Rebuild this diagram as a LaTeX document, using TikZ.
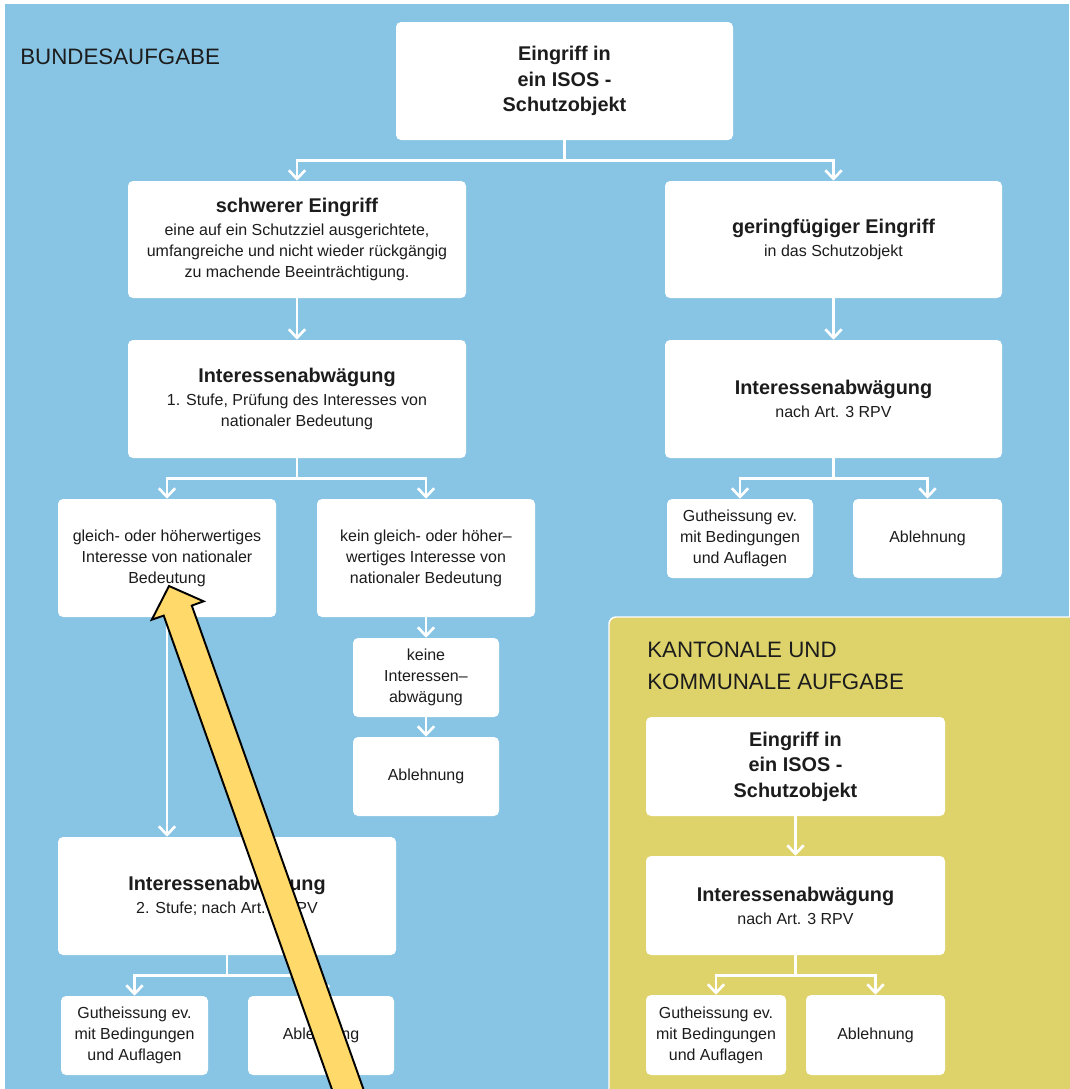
\documentclass[tikz,border=0pt]{standalone}
\usepackage{fontspec}
\setmainfont{Liberation Sans}
\usetikzlibrary{arrows.meta}
\definecolor{isosblue}{HTML}{88C4E3}
\definecolor{isosgold}{HTML}{DED36B}
\definecolor{isosink}{HTML}{1C1C1C}
\definecolor{isosmark}{HTML}{FFD96A}
\newcommand\isosttl[1]{{\fontsize{11.3}{14}\selectfont\bfseries #1}\\[1pt]}
\tikzset{
  isos text/.style={font=\fontsize{9.1}{12}\selectfont, text=isosink},
  isos size/.style 2 args={minimum width=#1*0.02cm, minimum height=#2*0.02cm},
  isos box/.style={fill=white, rounded corners=1mm, inner sep=0pt, align=center, isos text},
  isos bold/.style={font=\fontsize{11.3}{14.5}\selectfont\bfseries},
  isos head/.style={font=\fontsize{12.7}{18.2}\selectfont, text=isosink, anchor=base west,
    align=left, inner sep=0pt},
  isos panel/.style={fill=isosgold, draw=white, line width=0.8pt, rounded corners=1.4mm},
  isos arrow/.style={draw=white, line width=1.5pt, -{Straight Barb[length=1.7mm,width=3.3mm]}},
  isos mark/.style={fill=isosmark, draw=black, line width=1.1pt, line join=miter}
}
\begin{document}
\begin{tikzpicture}[x=0.02cm, y=-0.02cm, isos text]
  \useasboundingbox (0,0) rectangle (1069,1089);
  \fill[white] (0,0) rectangle (1069,1089);
  \fill[isosblue] (5,4) rectangle (1069,1089);
  \draw[isos panel] (609,617) rectangle (1090,1110);
  \node[isos head] (bund) at (20,64.5) {BUNDESAUFGABE};
  \node[isos head] (kant) at (647,689) {KANTONALE UND\\KOMMUNALE AUFGABE};
  % Bund
  \node[isos box, isos bold, isos size={337}{118}] (eing) at (564.5,81) {Eingriff in\\ein ISOS -\\Schutzobjekt};
  \node[isos box, isos size={338}{117}] (schwer) at (297,239.5)
    {\isosttl{schwerer Eingriff}eine auf ein Schutzziel ausgerichtete,\\umfangreiche und nicht wieder rückgängig\\zu machende Beeinträchtigung.};
  \node[isos box, isos size={337}{117}] (gering) at (833.5,239.5)
    {\isosttl{geringfügiger Eingriff}in das Schutzobjekt};
  \node[isos box, isos size={338}{118}] (abw1) at (297,399)
    {\isosttl{Interessenabwägung}1. Stufe, Prüfung des Interesses von\\nationaler Bedeutung};
  \node[isos box, isos size={337}{118}] (abwr) at (833.5,399)
    {\isosttl{Interessenabwägung}nach Art. 3 RPV};
  \node[isos box, isos size={218}{118}] (gleich) at (167,558)
    {gleich- oder höherwertiges\\Interesse von nationaler\\Bedeutung};
  \node[isos box, isos size={218}{118}] (kein) at (426,558)
    {kein gleich- oder höher–\\wertiges Interesse von\\nationaler Bedeutung};
  \node[isos box, isos size={146}{79}] (gutr) at (740,538.5) {Gutheissung ev.\\mit Bedingungen\\und Auflagen};
  \node[isos box, isos size={149}{79}] (ablr) at (927.5,538.5) {Ablehnung};
  \node[isos box, isos size={146}{79}] (keine) at (426,677.5) {keine\\Interessen–\\abwägung};
  \node[isos box, isos size={146}{79}] (ablm) at (426,776.5) {Ablehnung};
  \node[isos box, isos size={338}{118}] (abw2) at (227,896)
    {\isosttl{Interessenabwägung}2. Stufe; nach Art. 3 RPV};
  \node[isos box, isos size={147}{79}] (gutl) at (134.5,1035.5) {Gutheissung ev.\\mit Bedingungen\\und Auflagen};
  \node[isos box, isos size={146}{79}] (abll) at (321,1035.5) {Ablehnung};
  % Kanton und Gemeinde
  \node[isos box, isos bold, isos size={299}{99}] (keing) at (795.5,766.5) {Eingriff in\\ein ISOS -\\Schutzobjekt};
  \node[isos box, isos size={299}{99}] (kabw) at (795.5,905.5)
    {\isosttl{Interessenabwägung}nach Art. 3 RPV};
  \node[isos box, isos size={140}{80}] (kgut) at (716,1035) {Gutheissung ev.\\mit Bedingungen\\und Auflagen};
  \node[isos box, isos size={139}{80}] (kabl) at (875.5,1035) {Ablehnung};
  % connectors
  \draw[isos arrow] (eing.south) -- ++(0,20) -| (schwer.north);
  \draw[isos arrow] (eing.south) -- ++(0,20) -| (gering.north);
  \draw[isos arrow] (schwer) -- (abw1);
  \draw[isos arrow] (gering) -- (abwr);
  \draw[isos arrow] (abw1.south) -- ++(0,20) -| (gleich.north);
  \draw[isos arrow] (abw1.south) -- ++(0,20) -| (kein.north);
  \draw[isos arrow] (abwr.south) -- ++(0,20) -| (gutr.north);
  \draw[isos arrow] (abwr.south) -- ++(0,20) -| (ablr.north);
  \draw[isos arrow] (kein) -- (keine);
  \draw[isos arrow] (keine) -- (ablm);
  \draw[isos arrow] (gleich.south) -- (gleich.south |- abw2.north);
  \draw[isos arrow] (abw2.south) -- ++(0,20) -| (gutl.north);
  \draw[isos arrow] (abw2.south) -- ++(0,20) -| (abll.north);
  \draw[isos arrow] (keing) -- (kabw);
  \draw[isos arrow] (kabw.south) -- ++(0,20) -| (kgut.north);
  \draw[isos arrow] (kabw.south) -- ++(0,20) -| (kabl.north);
  % marker arrow
  \begin{scope}
    \clip (0,0) rectangle (1069,1089);
    \draw[isos mark] (169,586) -- (203.6,601.3) -- (191.8,605.6) -- (370.4,1108.8)
      -- (342.4,1118.8) -- (163.7,615.6) -- (151.8,619.7) -- cycle;
  \end{scope}
\end{tikzpicture}
\end{document}
